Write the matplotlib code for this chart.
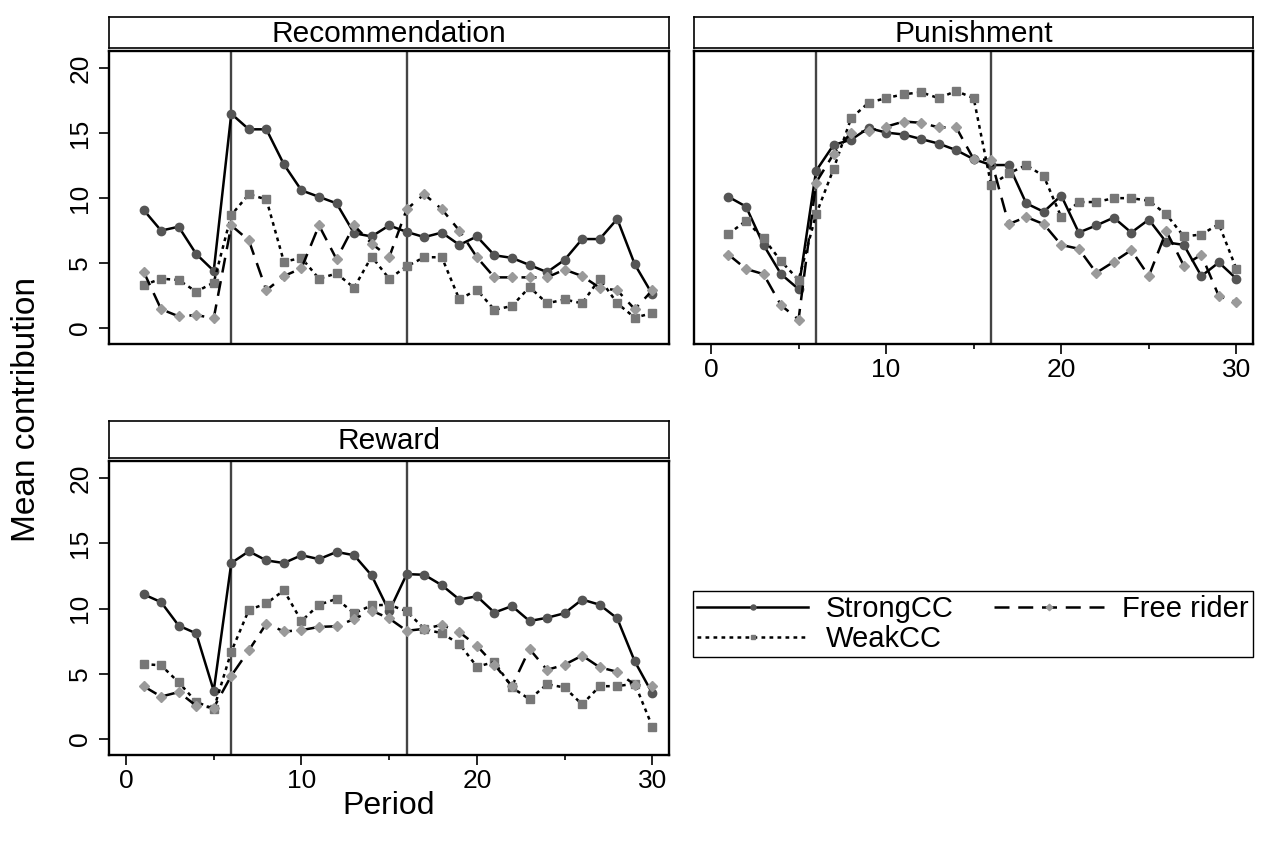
import numpy as np
import matplotlib
matplotlib.use("Agg")
import matplotlib.pyplot as plt

plt.rcParams['font.family'] = ['Liberation Sans', 'DejaVu Sans']

periods = list(range(1, 31))

# Recommendation
rec_strong = [9.1, 7.5, 7.8, 5.7, 4.4, 16.5, 15.3, 15.3, 12.6, 10.6, 10.1, 9.6, 7.3, 7.05, 7.9,
              7.4, 7.0, 7.35, 6.4, 7.05, 5.6, 5.4, 4.85, 4.3, 5.25, 6.85, 6.85, 8.4, 4.9, 2.6]
rec_weak = [3.3, 3.8, 3.7, 2.8, 3.5, 8.7, 10.3, 9.9, 5.1, 5.4, 3.8, 4.2, 3.1, 5.5, 3.8,
            4.75, 5.45, 5.45, 2.2, 2.95, 1.4, 1.7, 3.15, 1.9, 2.2, 1.9, 3.8, 1.9, 0.8, 1.15]
rec_free = [4.35, 1.45, 0.9, 1.0, 0.75, 7.9, 6.75, 2.9, 4.0, 4.6, 7.9, 5.3, 7.9, 6.5, 5.45,
            9.15, 10.3, 9.15, 7.5, 5.45, 3.9, 3.9, 3.9, 3.9, 4.5, 4.0, 3.1, 2.9, 1.45, 2.9]

# Punishment
pun_strong = [10.1, 9.35, 6.4, 4.15, 3.0, 12.1, 14.1, 14.5, 15.4, 15.05, 14.9, 14.55, 14.2, 13.7, 13.0,
              12.55, 12.55, 9.6, 8.95, 10.2, 7.35, 7.9, 8.5, 7.35, 8.35, 6.6, 6.4, 4.0, 5.05, 3.8]
pun_weak = [7.25, 8.25, 6.9, 5.15, 3.7, 8.75, 12.25, 16.15, 17.35, 17.7, 18.0, 18.15, 17.7, 18.25, 17.7,
            11.0, 11.9, 12.55, 11.7, 8.55, 9.7, 9.7, 10.0, 10.0, 9.8, 8.75, 7.05, 7.2, 8.0, 4.55]
pun_free = [5.65, 4.55, 4.15, 1.75, 0.65, 11.2, 13.4, 15.05, 15.15, 15.5, 15.9, 15.8, 15.45, 15.45, 13.0,
            12.95, 8.0, 8.55, 8.0, 6.4, 6.1, 4.25, 5.1, 6.0, 4.0, 7.45, 4.8, 5.65, 2.45, 2.0]

# Reward
rew_strong = [11.1, 10.5, 8.7, 8.1, 3.7, 13.5, 14.4, 13.7, 13.5, 14.1, 13.8, 14.35, 14.1, 12.55, 9.8,
              12.65, 12.6, 11.8, 10.7, 10.95, 9.7, 10.2, 9.05, 9.3, 9.65, 10.7, 10.3, 9.25, 5.95, 3.5]
rew_weak = [5.75, 5.65, 4.35, 2.85, 2.3, 6.7, 9.9, 10.4, 11.4, 9.05, 10.3, 10.75, 9.65, 10.25, 10.3,
            9.8, 8.45, 8.1, 7.3, 5.55, 5.9, 3.95, 3.05, 4.2, 3.95, 2.65, 4.05, 4.05, 4.25, 0.95]
rew_free = [4.05, 3.25, 3.6, 2.55, 2.4, 4.85, 6.8, 8.85, 8.25, 8.35, 8.6, 8.65, 9.2, 9.85, 9.25,
            8.3, 8.45, 8.75, 8.2, 7.15, 5.7, 4.05, 6.9, 5.3, 5.7, 6.4, 5.5, 5.15, 4.15, 4.05]

panels = [
    ("Recommendation", rec_strong, rec_weak, rec_free),
    ("Punishment", pun_strong, pun_weak, pun_free),
    ("Reward", rew_strong, rew_weak, rew_free),
]
breaks = [6, 16]

W, H = 1262, 848
fig = plt.figure(figsize=(W / 100, H / 100), dpi=100)


def rect(l, t, r, b):
    return [l / W, 1 - b / H, (r - l) / W, (b - t) / H]


# plot box (left, top, right, bottom) in pixels, strip top, show x ticks, show y ticks
boxes = [
    ((109, 51, 669, 344), 17, False, True),
    ((694, 51, 1253, 344), 17, True, False),
    ((109, 461, 669, 755), 421, True, True),
]

for (title, strong, weak, free), (box, strip_top, xt, yt) in zip(panels, boxes):
    l, t, r, b = box
    ax = fig.add_axes(rect(l, t, r, b))
    for xv in breaks:
        ax.axvline(xv, color="#444444", lw=1.7, zorder=1)
    ax.plot(periods, strong, color="black", lw=1.8, ls="-",
            marker="o", ms=6, mfc="#555555", mec="#555555", label="StrongCC", zorder=3)
    ax.plot(periods, weak, color="black", lw=1.8, ls=(0, (1.5, 1.7)),
            marker="s", ms=6, mfc="#777777", mec="#777777", label="WeakCC", zorder=3)
    ax.plot(periods, free, color="black", lw=1.8, ls=(0, (6, 3.5)),
            marker="D", ms=5.5, mfc="#9a9a9a", mec="#9a9a9a", label="Free rider", zorder=3)
    ax.set_xlim(-0.97, 30.95)
    ax.set_ylim(-1.23, 21.33)
    for s in ax.spines.values():
        s.set_linewidth(1.7)
    if xt:
        ax.set_xticks([0, 10, 20, 30])
        ax.set_xticks([5, 15, 25], minor=True)
        ax.tick_params(axis="x", which="major", length=7, width=1.2, labelsize=19, pad=3)
        ax.tick_params(axis="x", which="minor", length=3.5, width=1.2)
    else:
        ax.set_xticks([])
    if yt:
        ax.set_yticks([0, 5, 10, 15, 20])
        ax.tick_params(axis="y", length=7, width=1.2, labelsize=19, pad=5)
        for lab in ax.get_yticklabels():
            lab.set_rotation(90)
            lab.set_va("center")
    else:
        ax.set_yticks([])

    # title strip
    sax = fig.add_axes(rect(l, strip_top, r, t - 3))
    sax.set_xticks([])
    sax.set_yticks([])
    for s in sax.spines.values():
        s.set_linewidth(1.2)
    sax.text(0.5, 0.45, title, ha="center", va="center", fontsize=21.5, transform=sax.transAxes)

handles, labels = ax.get_legend_handles_labels()
# legend box spans x 693..1253, y 591..660 (pixels)
fig.legend(handles, labels, ncol=2, loc="upper left",
           bbox_to_anchor=(693 / W, 1 - 660 / H, 560 / W, 69 / H), mode="expand",
           frameon=True, fancybox=False, edgecolor="black", framealpha=1,
           fontsize=21, handlelength=3.8, handletextpad=0.6, numpoints=1, markerscale=0.6,
           borderpad=0.15, labelspacing=0.05, columnspacing=0.6, borderaxespad=0)

fig.text(389 / W, 1 - 806 / H, "Period", ha="center", va="center", fontsize=23)
fig.text(27 / W, 1 - 410 / H, "Mean contribution", ha="center", va="center",
         rotation=90, fontsize=24)

plt.savefig("out.png", dpi=100)
